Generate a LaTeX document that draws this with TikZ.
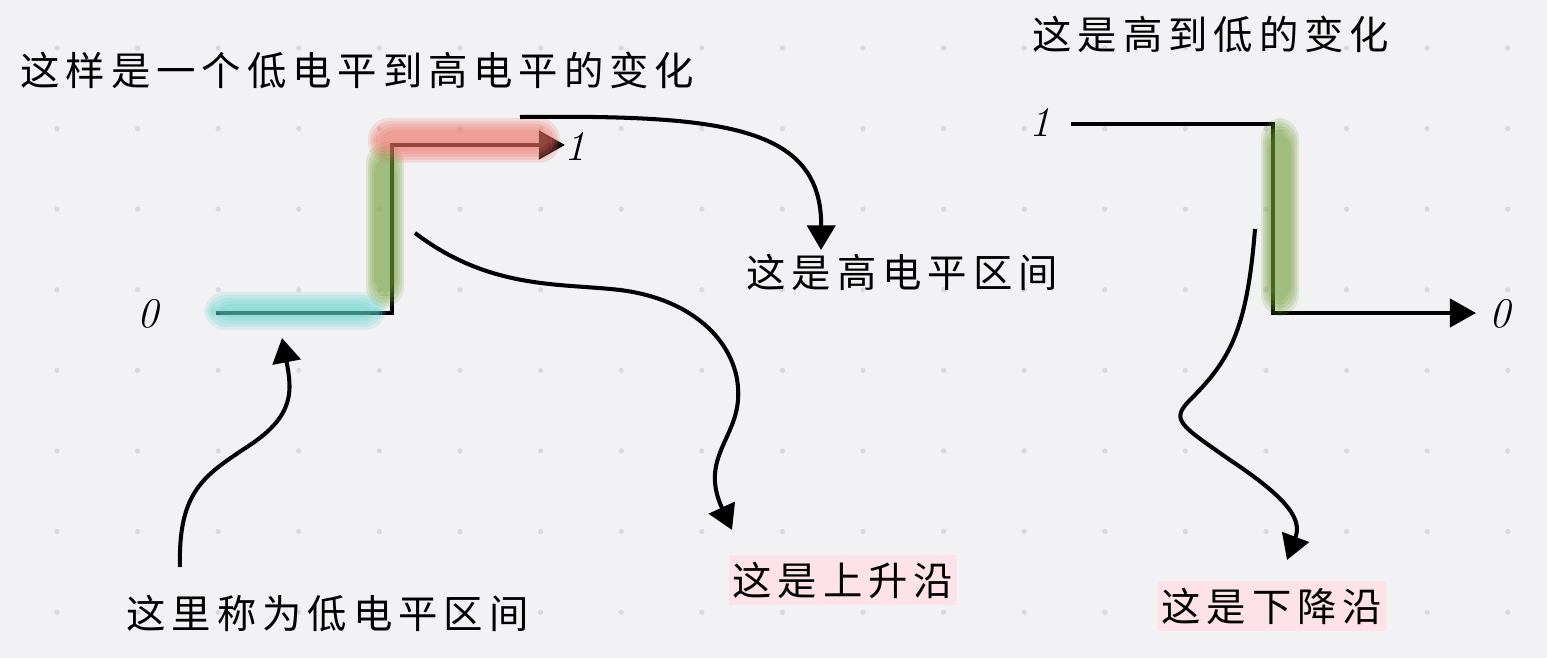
\documentclass[tikz,border=0pt]{standalone}
\usepackage{fontspec}
\usepackage{xcolor}
\usepackage{tikz}
\usetikzlibrary{arrows.meta}

\newfontfamily\cjk[LetterSpace=15]{Noto Sans CJK SC}
\definecolor{paper}{HTML}{F2F2F4}
\definecolor{gridgray}{HTML}{D9D9DD}
\definecolor{notepink}{HTML}{FDE3E8}
\definecolor{hlred}{HTML}{EE6F62}
\definecolor{hlgreen}{HTML}{74A03C}
\definecolor{hlcyan}{HTML}{62D4CC}

\begin{document}
\begin{tikzpicture}[x=0.01cm, y=-0.01cm,
    words/.style = {font=\cjk\fontsize{11.2pt}{13pt}\selectfont, inner sep=0pt, anchor=west},
    note/.style = {words, anchor=center, fill=notepink, minimum width=2.28cm, minimum height=0.5cm},
    digit/.style = {font=\itshape\fontsize{12pt}{14pt}\selectfont, inner sep=0pt},
    level/.style = {line width=1.1pt, line join=miter, -{Triangle[length=7.4pt, width=8pt]}},
    pointer/.style = {line width=1.15pt, -{Triangle[length=7pt, width=8pt]}}]

        % paper and dot grid
        \fill[paper] (0, 0) rectangle (1547, 658);
        \foreach \i in {0,...,18}
            \foreach \j in {0,...,7}
                \fill[gridgray] (57 + 80.6*\i, 48 + 80.6*\j) circle (0.75pt);

        % low to high
        \coordinate (l0) at (216, 313);
        \coordinate (lc) at (392, 313);
        \coordinate (lt) at (392, 145);
        \coordinate (l1) at (565, 145);
        \draw[level] (l0) -- (lc) -- (lt) -- (l1);

        \foreach \k in {0,...,4} {
            \fill[hlcyan, opacity=0.18, rounded corners=6pt]
                (204 + 2*\k, 292 + 3*\k) rectangle (386 - 2*\k, 330 - 3*\k);
            \fill[hlgreen, opacity=0.18, rounded corners=6pt]
                (366 + 2*\k, 142 + 3*\k) rectangle (404 - 2*\k, 308 - 3*\k);
            \fill[hlred, opacity=0.18, rounded corners=6pt]
                (368 + 2*\k, 118 + 3*\k) rectangle (560 - 2*\k, 163 - 3*\k);
        }

        \node[digit] (lzero) at (148, 314) {0};
        \node[digit] (lone) at (575, 146) {1};

        % high to low
        \coordinate (r1) at (1071, 124);
        \coordinate (rt) at (1273, 124);
        \coordinate (rb) at (1273, 313);
        \coordinate (r0) at (1476, 313);
        \draw[level] (r1) -- (rt) -- (rb) -- (r0);

        \foreach \k in {0,...,4}
            \fill[hlgreen, opacity=0.18, rounded corners=6pt]
                (1261 + 2*\k, 118 + 3*\k) rectangle (1299 - 2*\k, 316 - 3*\k);

        \node[digit] (rone) at (1040, 122) {1};
        \node[digit] (rzero) at (1500, 314) {0};

        % texts
        \node[words] (lowhigh) at (20, 70) {这样是一个低电平到高电平的变化};
        \node[words] (highlow) at (1032, 34) {这是高到低的变化};
        \node[words] (highzone) at (746, 272) {这是高电平区间};
        \node[words] (lowzone) at (126, 613) {这里称为低电平区间};
        \node[note] (rising) at (843, 580) {这是上升沿};
        \node[note] (falling) at (1272, 606) {这是下降沿};

        % pointers
        \coordinate (ha) at (520, 117);
        \coordinate (hb) at (821, 250);
        \draw[pointer] (ha) .. controls (720, 115) and (822, 125) .. (hb);

        \coordinate (ea) at (415, 233);
        \coordinate (eb) at (732, 530);
        \draw[pointer] (ea) .. controls (490, 290) and (560, 283) .. (620, 290)
            .. controls (700, 300) and (742, 350) .. (738, 400)
            .. controls (735, 440) and (700, 460) .. (eb);

        \coordinate (za) at (180, 567);
        \coordinate (zb) at (282, 338);
        \draw[pointer] (za) .. controls (178, 490) and (205, 475) .. (250, 445)
            .. controls (295, 415) and (292, 390) .. (zb);

        \coordinate (fa) at (1255, 229);
        \coordinate (fb) at (1287, 560);
        \draw[pointer] (fa) .. controls (1247, 330) and (1230, 360) .. (1190, 400)
            .. controls (1170, 420) and (1180, 425) .. (1230, 460)
            .. controls (1290, 500) and (1302, 520) .. (fb);
\end{tikzpicture}
\end{document}
